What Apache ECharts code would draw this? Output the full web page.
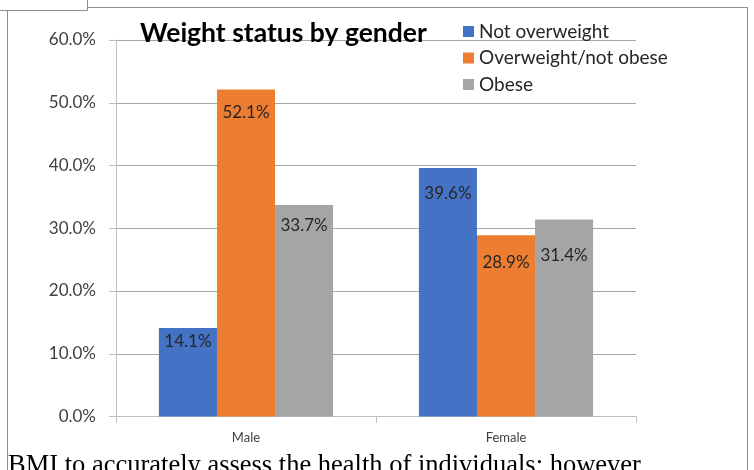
<!DOCTYPE html>
<html>
<head>
<meta charset="utf-8">
<script src="https://cdn.jsdelivr.net/npm/echarts@6/dist/echarts.min.js"></script>
<style>
  html, body { margin: 0; padding: 0; background: #ffffff; }
  #chart { width: 754px; height: 470px; }
</style>
</head>
<body>
<div id="chart"></div>
<script>
// Weight status shares (%) by gender
const categories = ['Male', 'Female'];
const notOverweight = [14.1, 39.6];
const overweightNotObese = [52.1, 28.9];
const obese = [33.7, 31.4];
const seriesNames = ['Not overweight', 'Overweight/not obese', 'Obese'];
const yMin = 0, yMax = 60, yStep = 10;

// Vertical nudges (px) for the in-bar value labels, per category
const nudgeNotOverweight = [0, 12];
const nudgeOverweight = [9, 14];
const nudgeObese = [7, 23];

const FONT = 'Lato, Carlito, Calibri, "Noto Sans", sans-serif';
const colors = ['#4472C4', '#ED7D31', '#A5A5A5'];

function pct(v) { return v.toFixed(1) + '%'; }

function barSeries(name, values, nudges, color) {
  return {
    name: name,
    type: 'bar',
    barGap: '0%',
    barCategoryGap: '33%',
    itemStyle: { color: color },
    data: values.map((v, i) => ({
      value: v,
      label: { offset: [0, nudges[i]] }
    })),
    label: {
      show: true,
      position: 'insideTop',
      distance: 5,
      fontFamily: FONT,
      fontSize: 17,
      color: '#262626',
      formatter: p => pct(p.value)
    }
  };
}

const chart = echarts.init(document.getElementById('chart'), null, { renderer: 'canvas' });

const frame = '#8c8c8c';
chart.setOption({
  animation: false,
  backgroundColor: '#ffffff',
  color: colors,
  title: {
    text: 'Weight status by gender',
    left: 135,
    top: 15,
    textStyle: { fontFamily: FONT, fontWeight: 'bold', fontSize: 26.5, color: '#000000' }
  },
  legend: {
    orient: 'vertical',
    left: 463,
    top: 22,
    padding: 0,
    itemWidth: 11,
    itemHeight: 11,
    itemGap: 7.5,
    icon: 'rect',
    data: seriesNames,
    textStyle: { fontFamily: FONT, fontSize: 19, color: '#262626', lineHeight: 18, padding: [0, 0, 0, 0] }
  },
  grid: { left: 116, right: 118, top: 40, bottom: 53.5, containLabel: false },
  xAxis: {
    type: 'category',
    data: categories,
    axisLine: { lineStyle: { color: '#bfbfbf', width: 1 } },
    axisTick: { show: true, length: 6, lineStyle: { color: '#bfbfbf' } },
    axisLabel: { fontFamily: FONT, fontSize: 13, color: '#404040', margin: 15 }
  },
  yAxis: {
    type: 'value',
    min: yMin,
    max: yMax,
    interval: yStep,
    axisLine: { show: true, lineStyle: { color: '#bfbfbf', width: 1 } },
    axisTick: { show: true, length: 7, lineStyle: { color: '#bfbfbf' } },
    axisLabel: { fontFamily: FONT, fontSize: 17, color: '#404040', margin: 20, formatter: v => pct(v) },
    splitLine: { lineStyle: { color: '#a6a6a6', width: 1 } }
  },
  series: [
    barSeries(seriesNames[0], notOverweight, nudgeNotOverweight, colors[0]),
    barSeries(seriesNames[1], overweightNotObese, nudgeOverweight, colors[1]),
    barSeries(seriesNames[2], obese, nudgeObese, colors[2])
  ],
  graphic: [
    // outer frame of the embedded chart
    { type: 'line', silent: true, shape: { x1: 0, y1: 10.5, x2: 87.5, y2: 10.5 }, style: { stroke: frame, lineWidth: 1 } },
    { type: 'line', silent: true, shape: { x1: 87.5, y1: 0, x2: 87.5, y2: 10.5 }, style: { stroke: frame, lineWidth: 1 } },
    { type: 'line', silent: true, shape: { x1: 87.5, y1: 7.5, x2: 747.5, y2: 7.5 }, style: { stroke: frame, lineWidth: 1 } },
    { type: 'line', silent: true, shape: { x1: 7.5, y1: 10.5, x2: 7.5, y2: 470 }, style: { stroke: frame, lineWidth: 1 } },
    { type: 'line', silent: true, shape: { x1: 747.5, y1: 7.5, x2: 747.5, y2: 470 }, style: { stroke: frame, lineWidth: 1 } },
    // body text running beneath the chart
    {
      type: 'text', silent: true, left: 8, top: 453,
      style: {
        text: 'BMI to accurately assess the health of individuals; however',
        font: '26.5px "Liberation Serif", "Times New Roman", serif',
        fill: '#000000'
      }
    }
  ]
});
</script>
</body>
</html>
